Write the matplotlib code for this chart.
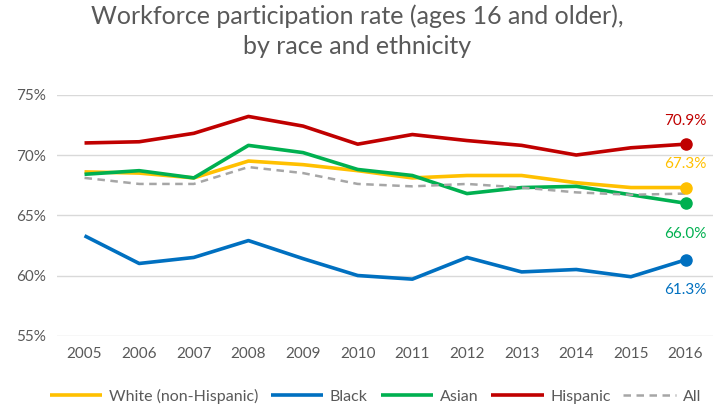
import numpy as np
import matplotlib.pyplot as plt

years = list(range(2005, 2017))

white = [68.6, 68.5, 68.1, 69.5, 69.2, 68.7, 68.1, 68.3, 68.3, 67.7, 67.3, 67.3]
black = [63.3, 61.0, 61.5, 62.9, 61.4, 60.0, 59.7, 61.5, 60.3, 60.5, 59.9, 61.3]
asian = [68.4, 68.7, 68.1, 70.8, 70.2, 68.8, 68.3, 66.8, 67.3, 67.4, 66.7, 66.0]
hispanic = [71.0, 71.1, 71.8, 73.2, 72.4, 70.9, 71.7, 71.2, 70.8, 70.0, 70.6, 70.9]
everyone = [68.1, 67.6, 67.6, 69.0, 68.5, 67.6, 67.4, 67.6, 67.3, 66.9, 66.7, 66.8]

yticks = [55, 60, 65, 70, 75]

plt.rcParams['font.family'] = ['Lato', 'DejaVu Sans']
grey = '#595959'

fig = plt.figure(figsize=(7.15, 4.12), dpi=100)
ax = fig.add_axes([0.08, 0.185, 0.917, 0.585])

series = [
    ('White (non-Hispanic)', white, '#FFC000', '-'),
    ('Black', black, '#0070C0', '-'),
    ('Asian', asian, '#00B050', '-'),
    ('Hispanic', hispanic, '#C00000', '-'),
    ('All', everyone, '#A6A6A6', '--'),
]

for name, vals, col, ls in series:
    ax.plot(years, vals, color=col, lw=2.6 if ls == '-' else 1.8,
            ls=ls, label=name, dashes=(3, 2.2) if ls == '--' else (None, None),
            solid_capstyle='butt')

# end-point markers and value labels
ends = [(hispanic, '#C00000', 12), (white, '#FFC000', 12),
        (asian, '#00B050', -17), (black, '#0070C0', -17)]
for vals, col, dy in ends:
    ax.plot(years[-1], vals[-1], 'o', color=col, ms=8, zorder=5)
    ax.annotate(f'{vals[-1]:.1f}%', (years[-1], vals[-1]),
                xytext=(0, dy), textcoords='offset points',
                ha='center', va='bottom' if dy > 0 else 'top',
                color=col, fontsize=11)

ax.set_xlim(2004.5, 2016.5)
ax.set_ylim(55, 75)
ax.set_xticks(years)
ax.set_yticks(yticks)
ax.set_yticklabels([f'{v}%' for v in yticks])
ax.yaxis.grid(True, color='#D9D9D9', lw=1)
ax.set_axisbelow(True)
for s in ax.spines.values():
    s.set_visible(False)
ax.tick_params(length=0, colors=grey, labelsize=11, pad=8)

fig.suptitle('Workforce participation rate (ages 16 and older),\nby race and ethnicity',
             color=grey, fontsize=18, y=0.99, linespacing=1.4)

ax.legend(loc='upper center', bbox_to_anchor=(0.485, -0.16), ncol=5,
          frameon=False, fontsize=11.5, labelcolor=grey,
          handlelength=3.3, handletextpad=0.4, columnspacing=0.8)

fig.savefig('out.png', dpi=100)
